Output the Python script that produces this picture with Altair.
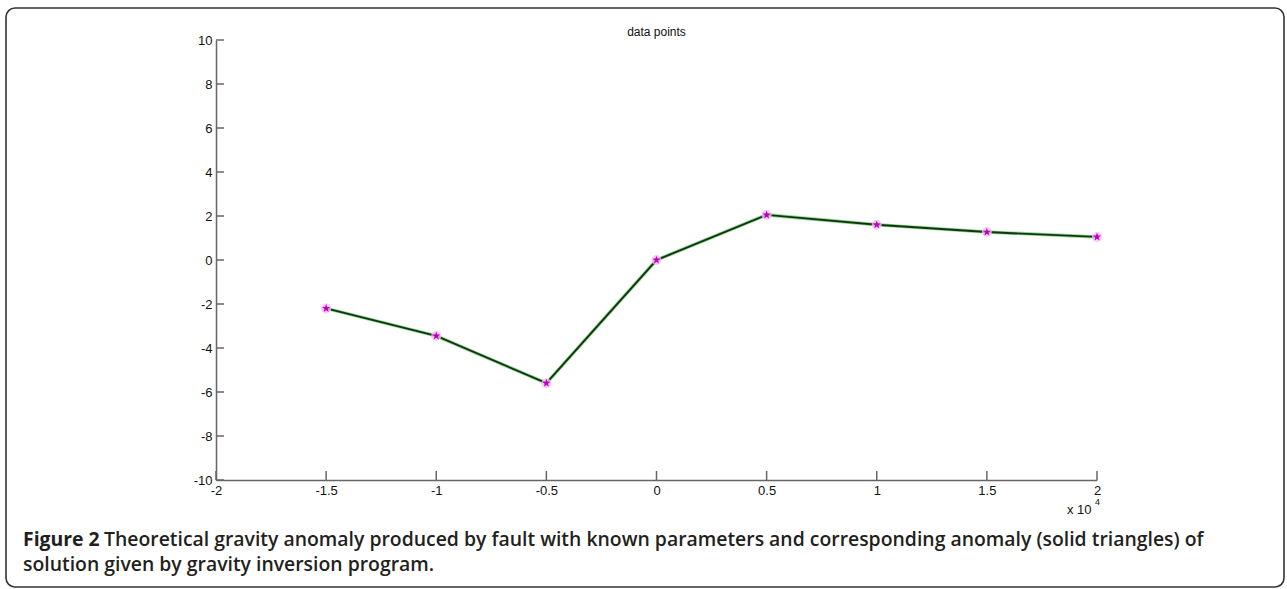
import altair as alt
import pandas as pd

# data (x in metres, shown as x 10^4)
x_vals = [-15000, -10000, -5000, 0, 5000, 10000, 15000, 20000]
y_vals = [-2.2, -3.45, -5.6, 0.0, 2.05, 1.6, 1.27, 1.05]
x_ticks = [-20000, -15000, -10000, -5000, 0, 5000, 10000, 15000, 20000]
y_ticks = [-10, -8, -6, -4, -2, 0, 2, 4, 6, 8, 10]
title_text = "data points"
caption_bold = "Figure 2"
caption_line1 = "Theoretical gravity anomaly produced by fault with known parameters and corresponding anomaly (solid triangles) of"
caption_line2 = "solution given by gravity inversion program."

W, H = 881, 440
df = pd.DataFrame({"x": x_vals, "y": y_vals})
xt = pd.DataFrame({"x": x_ticks})
yt = pd.DataFrame({"y": y_ticks})
one = pd.DataFrame({"a": [0]})

xs = alt.Scale(domain=[-20000, 20000], nice=False, zero=False)
ys = alt.Scale(domain=[-10, 10], nice=False, zero=False)

LF = "Liberation Sans"
x_axis = alt.Axis(values=x_ticks, labelExpr="'' + (datum.value/10000)", tickSize=0,
                  labelPadding=4, labelFlush=False, labelOverlap=False,
                  domainColor="#666666", domainWidth=1.5, grid=False, title=None,
                  labelFont=LF, labelFontSize=13, labelColor="#111111")
y_axis = alt.Axis(values=y_ticks, labelExpr="'' + datum.value", tickSize=0, labelPadding=4,
                  labelFlush=False, labelOverlap=False, domainColor="#666666", domainWidth=1.5,
                  grid=False, title=None, labelFont=LF,
                  labelFontSize=13, labelColor="#111111")

base = alt.Chart(df)

halo = base.mark_line(color="#8fdc8f", strokeWidth=3.5).encode(
    x=alt.X("x:Q", scale=xs, axis=x_axis), y=alt.Y("y:Q", scale=ys, axis=y_axis))
line = base.mark_line(color="#143214", strokeWidth=1.9).encode(
    x=alt.X("x:Q", scale=xs), y=alt.Y("y:Q", scale=ys))
pts_halo = base.mark_point(shape="circle", filled=True, color="#f2c0f2", size=100, opacity=0.8).encode(
    x=alt.X("x:Q", scale=xs), y=alt.Y("y:Q", scale=ys))
pts = base.mark_point(shape="M0,-1L0.24,-0.33L0.95,-0.31L0.38,0.12L0.59,0.81L0,0.4L-0.59,0.81L-0.38,0.12L-0.95,-0.31L-0.24,-0.33Z",
                      filled=True, color="#c000c0", size=75, opacity=1).encode(
    x=alt.X("x:Q", scale=xs), y=alt.Y("y:Q", scale=ys))

xtick = alt.Chart(xt).mark_rule(color="#666666", strokeWidth=1.5).encode(
    x=alt.X("x:Q", scale=xs), y=alt.value(H), y2=alt.value(H - 9))
ytick = alt.Chart(yt).mark_rule(color="#666666", strokeWidth=1.5).encode(
    y=alt.Y("y:Q", scale=ys), x=alt.value(0), x2=alt.value(8))

title = alt.Chart(one).mark_text(text=title_text, align="center", baseline="middle",
                                 font=LF, fontSize=12, color="#111111").encode(
    x=alt.value(W / 2), y=alt.value(-8))
x10 = alt.Chart(one).mark_text(text="x 10", align="left", baseline="middle",
                               font=LF, fontSize=13, color="#111111").encode(
    x=alt.value(851), y=alt.value(470))
sup = alt.Chart(one).mark_text(text="4", align="left", baseline="middle",
                               font=LF, fontSize=9, color="#111111").encode(
    x=alt.value(879), y=alt.value(462))

border = alt.Chart(one).mark_rect(filled=False, stroke="#333333", strokeWidth=1.6,
                                  cornerRadius=9).encode(
    x=alt.value(-210), x2=alt.value(1068), y=alt.value(-32), y2=alt.value(547))

cap_font = "Open Sans"
CS = 19.4
cap1a = alt.Chart(one).mark_text(text=caption_bold, align="left", baseline="middle",
                                 font=cap_font, fontSize=CS, fontWeight="bold", color="#231f20").encode(
    x=alt.value(-193), y=alt.value(500))
cap1b = alt.Chart(one).mark_text(text=caption_line1, align="left", baseline="middle",
                                 font=cap_font, fontSize=CS, fontWeight=600, color="#231f20").encode(
    x=alt.value(-112), y=alt.value(500))
cap2 = alt.Chart(one).mark_text(text=caption_line2, align="left", baseline="middle",
                                font=cap_font, fontSize=CS, fontWeight=600, color="#231f20").encode(
    x=alt.value(-193), y=alt.value(525))

chart = alt.layer(halo, line, pts_halo, pts, xtick, ytick, title, x10, sup, border,
                  cap1a, cap1b, cap2).properties(
    width=W, height=H,
    background="white",
    autosize=alt.AutoSizeParams(type="none"),
    padding={"left": 216, "top": 40, "right": 190, "bottom": 109},
).configure_view(strokeWidth=0, stroke="transparent")

chart.save("out.html", embed_options={"renderer": "svg", "actions": False})
